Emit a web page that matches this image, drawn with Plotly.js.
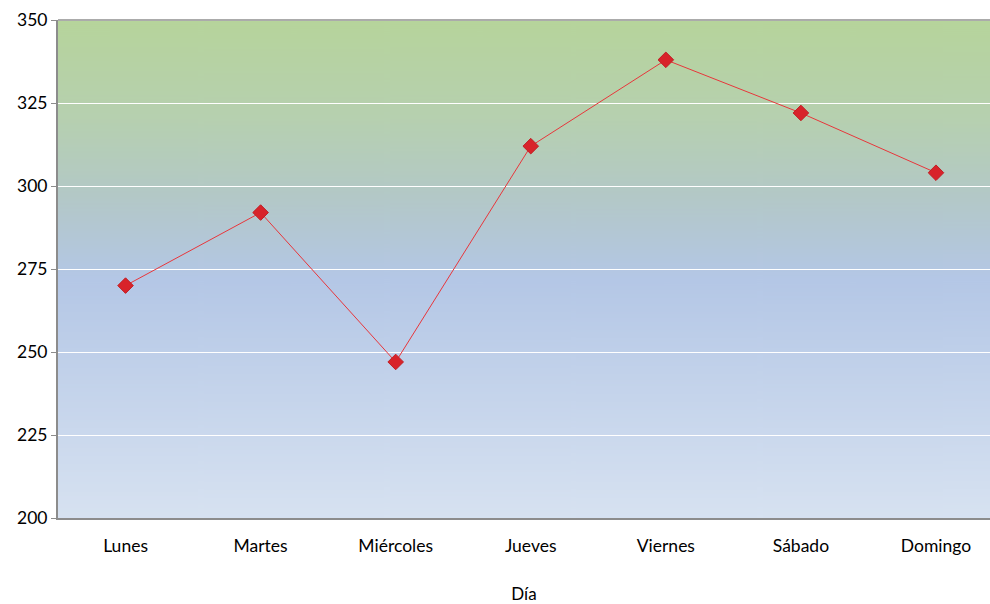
<!DOCTYPE html>
<html><head><meta charset="utf-8">
<script src="https://cdn.plot.ly/plotly-3.0.1.min.js"></script>
<style>html,body{margin:0;padding:0;background:#fff}#chart{width:990px;height:604px}</style>
</head><body><div id="chart"></div>
<script>
const dias = ["Lunes","Martes","Miércoles","Jueves","Viernes","Sábado","Domingo"];
const valores = [270, 292, 247, 312, 338, 322, 304];
const yTicks = [200, 225, 250, 275, 300, 325, 350];

// background gradient image
const cv = document.createElement('canvas');
cv.width = 10; cv.height = 500;
const ctx = cv.getContext('2d');
const g = ctx.createLinearGradient(0,0,0,500);
g.addColorStop(0, '#b6d49b');
g.addColorStop(0.2, '#b6d0b0');
g.addColorStop(0.36, '#b3c8c8');
g.addColorStop(0.52, '#b4c7e6');
g.addColorStop(1, '#d7e2f1');
ctx.fillStyle = g; ctx.fillRect(0,0,10,500);
const bg = cv.toDataURL();

const trace = {
  x: dias, y: valores, type: 'scatter', mode: 'lines+markers',
  line: {color: '#e8363b', width: 1},
  marker: {symbol: 'diamond', size: 12, color: '#d8232a', line: {color: '#c01f25', width: 1}},
  hoverinfo: 'x+y'
};

const layout = {
  width: 990, height: 604,
  margin: {l: 58, r: 0, t: 20, b: 86},
  paper_bgcolor: '#ffffff', plot_bgcolor: 'rgba(0,0,0,0)',
  font: {family: 'Lato, "Open Sans", sans-serif', size: 16, color: '#000'},
  showlegend: false,
  xaxis: {
    type: 'category', range: [-0.5, 6.4], showgrid: false, zeroline: false,
    showline: true, linecolor: '#8c8c8c', linewidth: 2, ticks: '',
    ticklabelstandoff: 11,
    tickfont: {size: 17.5}, title: {text: 'Día', font: {size: 17}, standoff: 38}
  },
  yaxis: {
    range: [200, 350], tickvals: yTicks, showgrid: true, gridcolor: '#ffffff', gridwidth: 1,
    zeroline: false, showline: true, linecolor: '#8c8c8c', linewidth: 2,
    ticks: 'outside', ticklen: 5, tickcolor: '#8c8c8c', tickwidth: 1, tickfont: {size: 17.5}
  },
  images: [{source: bg, xref: 'paper', yref: 'paper', x: 0, y: 1, sizex: 1, sizey: 1,
    sizing: 'stretch', layer: 'below', xanchor: 'left', yanchor: 'top'}],
  shapes: [{type: 'line', xref: 'paper', yref: 'paper', x0: 0, x1: 1, y0: 1, y1: 1,
    line: {color: '#ababab', width: 2}}]
};
Plotly.newPlot('chart', [trace], layout, {displayModeBar: false, staticPlot: true});
</script></body></html>
